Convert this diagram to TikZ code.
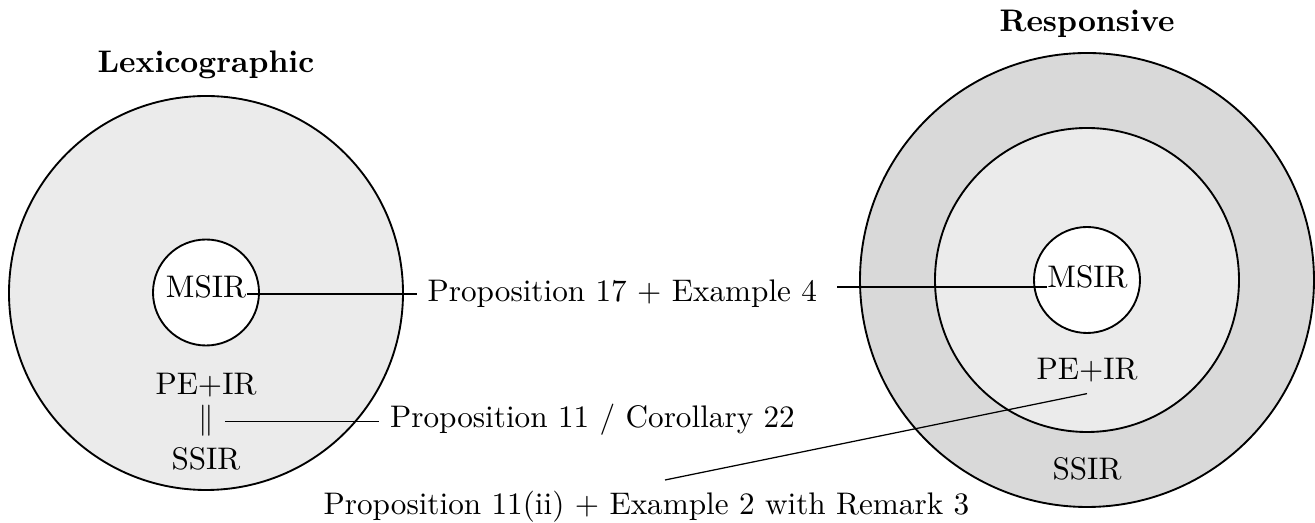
\documentclass[tikz,border=0pt]{standalone}
\newdimen\pxu \pxu=0.3205pt
\begin{document}
\begin{tikzpicture}[x=0.3205pt,y=-0.3205pt,
  ring/.style={circle, draw, semithick, inner sep=0pt},
  lbl/.style={inner sep=0pt, anchor=base},
  conn/.style={thin}]
\useasboundingbox (0,0) rectangle (1315,523);
% left diagram
\node[lbl] (lexT) at (206,73) {\textbf{Lexicographic}};
\node[ring, fill=black!8, minimum size=394\pxu] (lout) at (206,293) {};
\node[ring, fill=white, minimum size=106\pxu] (lin) at (206,292.5) {};
\node[lbl] (lm) at (206,298) {MSIR};
\node[lbl] (lpe) at (206,395) {PE+IR};
\node[anchor=base] (par) at (206,429) {$\|$};
\node[lbl] (lss) at (206,470) {SSIR};
% right diagram
\node[lbl] (resT) at (1087,32) {\textbf{Responsive}};
\node[ring, fill=black!15, minimum size=454\pxu] (rout) at (1087,280) {};
\node[ring, fill=black!8, minimum size=304\pxu] (rmid) at (1087,280) {};
\node[ring, fill=white, minimum size=106\pxu] (rin) at (1087,280) {};
\node[lbl] (rm) at (1087.5,288) {MSIR};
\node[anchor=base] (rpe) at (1087,380) {PE+IR};
\node[lbl] (rss) at (1087,480) {SSIR};
% labels
\node[anchor=base west] (p17) at (416.6,301.7) {Proposition 17 $+$ Example 4};
\node[anchor=base west] (p11) at (379,428) {Proposition 11 / Corollary 22};
\node[anchor=base west, inner sep=0pt] (p11ii) at (323,515) {Proposition 11(ii) $+$ Example 2 with Remark 3};
\coordinate (p17r) at (837,287);
\coordinate (p11iit) at (665,480);
% connectors
\draw[conn] (lm.east |- p17.west) -- (p17.west);
\draw[conn] (p17r) -- (rm.west |- p17r);
\draw[conn] (par.east) -- (par.east -| p11.west);
\draw[conn] (rpe.south) -- (p11iit);
\end{tikzpicture}
\end{document}
